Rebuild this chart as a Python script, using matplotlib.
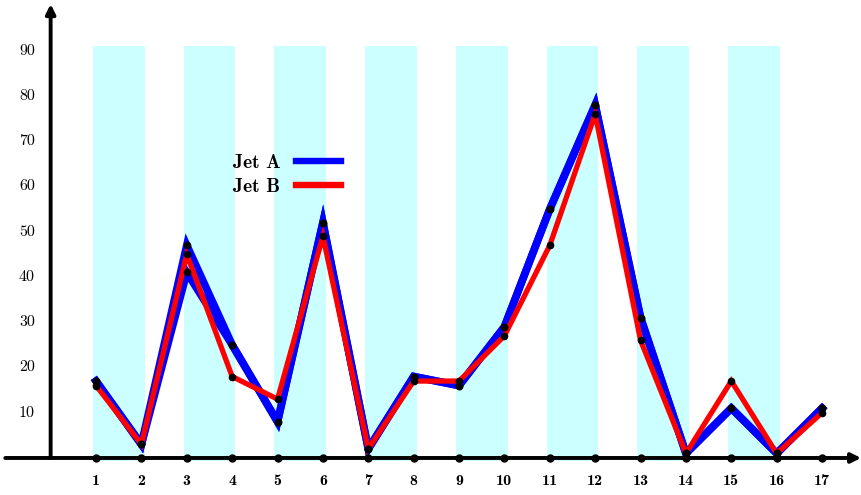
import matplotlib.pyplot as plt
import numpy as np

# data
x = list(range(1, 18))
jet_a = [17, 3, 47, 25, 8, 52, 2, 18, 16, 29, 55, 78, 31, 1, 11, 1, 11]
jet_a_alt = [17, 3, 41, 25, 8, 52, 2, 18, 16, 29, 55, 78, 31, 1, 11, 1, 11]  # second blue trace (differs at x=3)
jet_b = [16, 3, 45, 18, 13, 49, 2, 17, 17, 27, 47, 76, 26, 1, 17, 1, 10]
y_ticks = [10, 20, 30, 40, 50, 60, 70, 80, 90]
band_starts = [1, 3, 5, 7, 9, 11, 13, 15]

fig = plt.figure(figsize=(8.62, 4.95), dpi=100)
ax = fig.add_axes([0, 0, 1, 1])
ax.set_xlim(-1.116, 17.88)
ax.set_ylim(-8.18, 101.2)
ax.axis('off')

#shaded bands
for b in band_starts:
    ax.axvspan(b - 0.07, b + 1.07, ymin=(-0.7 + 8.18) / 109.38, ymax=(91 + 8.18) / 109.38,
               color='#ccffff', lw=0, zorder=0)

#axes with arrows
ax.annotate('', xy=(17.86, 0), xytext=(-1.0, 0),
            arrowprops=dict(arrowstyle='-|>', lw=2.8, color='black', mutation_scale=14,
                            shrinkA=0, shrinkB=0), zorder=2)
ax.annotate('', xy=(0, 100.3), xytext=(0, 0),
            arrowprops=dict(arrowstyle='-|>', lw=2.8, color='black', mutation_scale=14,
                            shrinkA=0, shrinkB=0), zorder=2)

#ticks
for t in y_ticks:
    ax.text(-0.52, t, str(t), ha='center', va='center', fontsize=11.5, family='cmr10')
for xi in x:
    ax.text(xi, -5.0, str(xi), ha='center', va='center', fontsize=11.5, family='cmb10')
ax.plot(x, np.zeros(len(x)), 'o', color='black', ms=5, zorder=6)

#lines
ax.plot(x, jet_a_alt, color='blue', lw=5.5, solid_joinstyle='miter', zorder=3)
ax.plot(x, jet_a, color='blue', lw=5.5, solid_joinstyle='miter', zorder=3, label='Jet A')
ax.plot(x, jet_b, color='red', lw=3.8, solid_joinstyle='miter', zorder=4, label='Jet B')
ax.plot(x, jet_a, 'o', color='black', ms=4.5, zorder=5)
ax.plot(x, jet_a_alt, 'o', color='black', ms=4.5, zorder=5)
ax.plot(x, jet_b, 'o', color='black', ms=4.5, zorder=5)

leg = ax.legend(loc='upper left', bbox_to_anchor=(0.270, 0.689), frameon=False, markerfirst=False,
                prop={'family': 'cmb10', 'size': 14}, handlelength=2.3, handletextpad=0.8,
                labelspacing=0.3, borderpad=0, borderaxespad=0)
for h in leg.get_lines():
    h.set_linewidth(4.6)

plt.savefig('out.png', dpi=100)
